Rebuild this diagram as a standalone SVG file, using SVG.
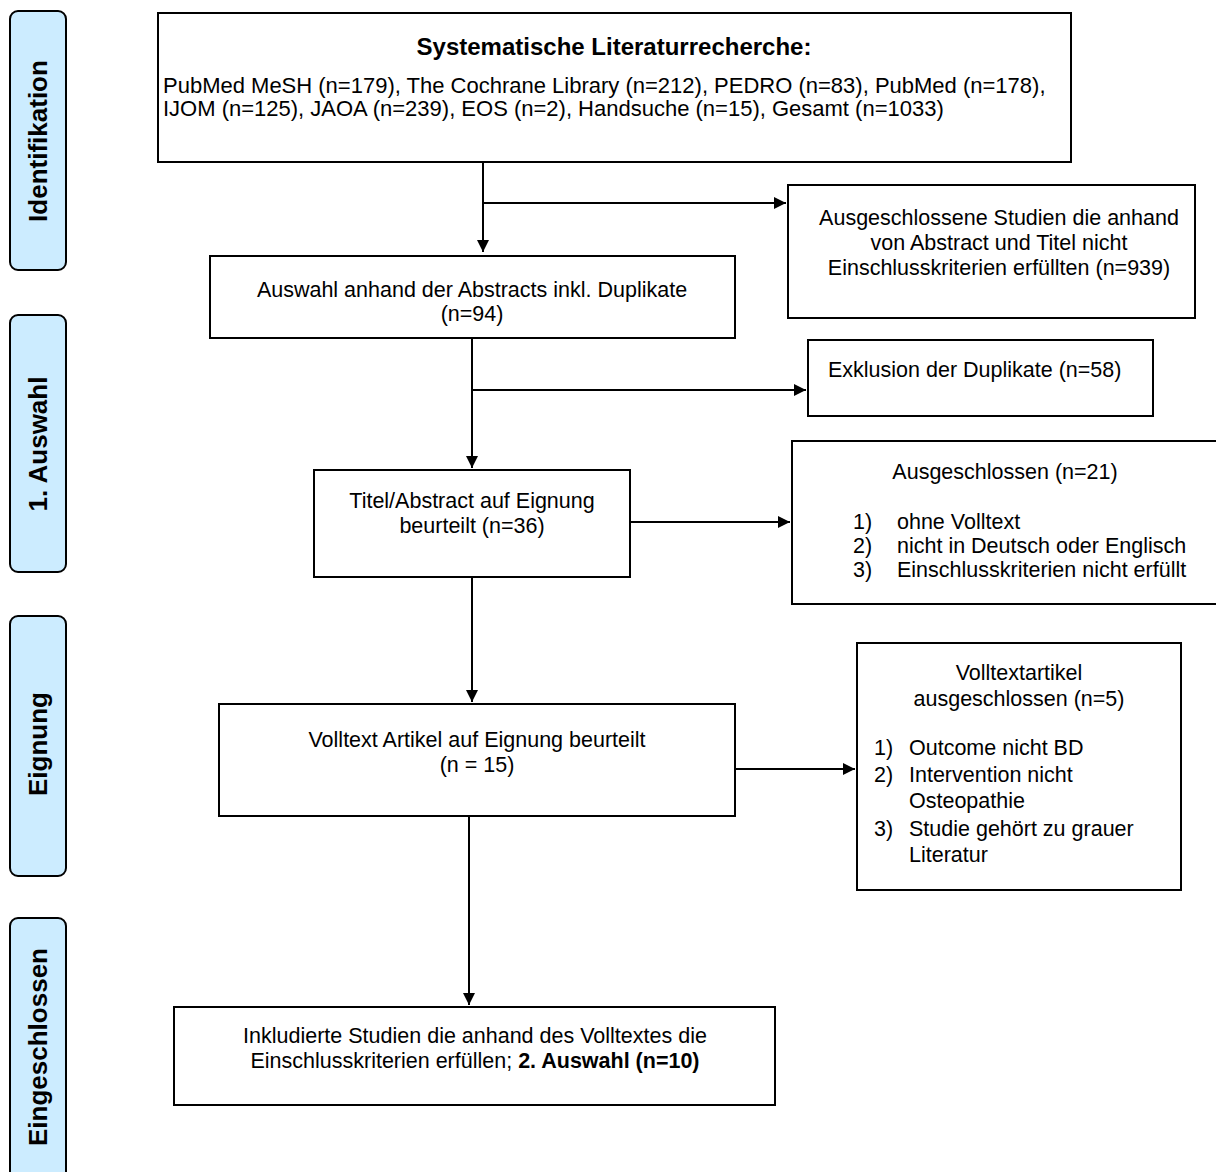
<svg xmlns="http://www.w3.org/2000/svg" width="1216" height="1172" viewBox="0 0 1216 1172">
<style>
  text { font-family: "Liberation Sans", Arial, sans-serif; font-size: 21.5px; fill: #000; }
  .b { font-weight: bold; }
  .c { text-anchor: middle; }
  .big { font-size: 22px; }
  .title { font-weight: bold; font-size: 24px; text-anchor: middle; }
  .box { fill: #fff; stroke: #000; stroke-width: 2; }
  .side { fill: #CCECFF; stroke: #000; stroke-width: 2; }
  .sidet { font-weight: bold; font-size: 26px; text-anchor: middle; }
  .conn { fill: none; stroke: #000; stroke-width: 2; }
</style>
<defs>
  <marker id="ah" viewBox="0 0 10 10" refX="10" refY="5" markerWidth="6" markerHeight="6" markerUnits="strokeWidth" orient="auto">
    <path d="M0,0 L10,5 L0,10 z" fill="#000"/>
  </marker>
</defs>
<rect width="1216" height="1172" fill="#fff"/>

<g id="phase-identifikation">
  <rect class="side" x="10" y="11" width="56" height="259" rx="8"/>
  <text class="sidet" transform="translate(47,141) rotate(-90)">Identifikation</text>
</g>
<g id="phase-auswahl">
  <rect class="side" x="10" y="315" width="56" height="257" rx="8"/>
  <text class="sidet" transform="translate(47,444) rotate(-90)">1. Auswahl</text>
</g>
<g id="phase-eignung">
  <rect class="side" x="10" y="616" width="56" height="260" rx="8"/>
  <text class="sidet" transform="translate(47,744) rotate(-90)">Eignung</text>
</g>
<g id="phase-eingeschlossen">
  <rect class="side" x="10" y="918" width="56" height="270" rx="8"/>
  <text class="sidet" transform="translate(47,1047) rotate(-90)">Eingeschlossen</text>
</g>

<g id="connectors">
  <path class="conn" d="M483,162 V252" marker-end="url(#ah)"/>
  <path class="conn" d="M483,203 H786" marker-end="url(#ah)"/>
  <path class="conn" d="M472,338 V468" marker-end="url(#ah)"/>
  <path class="conn" d="M472,390 H806" marker-end="url(#ah)"/>
  <path class="conn" d="M630,522 H790" marker-end="url(#ah)"/>
  <path class="conn" d="M472,577 V702" marker-end="url(#ah)"/>
  <path class="conn" d="M735,769 H855" marker-end="url(#ah)"/>
  <path class="conn" d="M469,816 V1005" marker-end="url(#ah)"/>
</g>

<g id="n-recherche">
  <rect class="box" x="158" y="13" width="913" height="149"/>
  <text class="title" x="614" y="55">Systematische Literaturrecherche:</text>
  <text class="big" x="163" y="93">PubMed MeSH (n=179), The Cochrane Library (n=212), PEDRO (n=83), PubMed (n=178),</text>
  <text class="big" x="163" y="116">IJOM (n=125), JAOA (n=239), EOS (n=2), Handsuche (n=15), Gesamt (n=1033)</text>
</g>

<g id="n-ausgeschlossen939">
  <rect class="box" x="788" y="185" width="407" height="133"/>
  <text class="c" x="999" y="225">Ausgeschlossene Studien die anhand</text>
  <text class="c" x="999" y="250">von Abstract und Titel nicht</text>
  <text class="c" x="999" y="275">Einschlusskriterien erfüllten (n=939)</text>
</g>

<g id="n-auswahl94">
  <rect class="box" x="210" y="256" width="525" height="82"/>
  <text class="c" x="472" y="297">Auswahl anhand der Abstracts inkl. Duplikate</text>
  <text class="c" x="472" y="321">(n=94)</text>
</g>

<g id="n-duplikate">
  <rect class="box" x="808" y="340" width="345" height="76"/>
  <text x="828" y="377">Exklusion der Duplikate (n=58)</text>
</g>

<g id="n-titel36">
  <rect class="box" x="314" y="470" width="316" height="107"/>
  <text class="c" x="472" y="508">Titel/Abstract auf Eignung</text>
  <text class="c" x="472" y="533">beurteilt (n=36)</text>
</g>

<g id="n-ausgeschlossen21">
  <rect class="box" x="792" y="441" width="430" height="163"/>
  <text class="c" x="1005" y="479">Ausgeschlossen (n=21)</text>
  <text x="853" y="529">1)</text><text x="897" y="529">ohne Volltext</text>
  <text x="853" y="553">2)</text><text x="897" y="553">nicht in Deutsch oder Englisch</text>
  <text x="853" y="577">3)</text><text x="897" y="577">Einschlusskriterien nicht erfüllt</text>
</g>

<g id="n-volltext15">
  <rect class="box" x="219" y="704" width="516" height="112"/>
  <text class="c" x="477" y="747">Volltext Artikel auf Eignung beurteilt</text>
  <text class="c" x="477" y="772">(n = 15)</text>
</g>

<g id="n-volltextausgeschlossen5">
  <rect class="box" x="857" y="643" width="324" height="247"/>
  <text class="c" x="1019" y="680">Volltextartikel</text>
  <text class="c" x="1019" y="706">ausgeschlossen (n=5)</text>
  <text x="874" y="755">1)</text><text x="909" y="755">Outcome nicht BD</text>
  <text x="874" y="782">2)</text><text x="909" y="782">Intervention nicht</text>
  <text x="909" y="808">Osteopathie</text>
  <text x="874" y="836">3)</text><text x="909" y="836">Studie gehört zu grauer</text>
  <text x="909" y="862">Literatur</text>
</g>

<g id="n-inkludiert10">
  <rect class="box" x="174" y="1007" width="601" height="98"/>
  <text class="c" x="475" y="1043">Inkludierte Studien die anhand des Volltextes die</text>
  <text class="c" x="475" y="1068">Einschlusskriterien erfüllen; <tspan class="b">2. Auswahl (n=10)</tspan></text>
</g>
</svg>
